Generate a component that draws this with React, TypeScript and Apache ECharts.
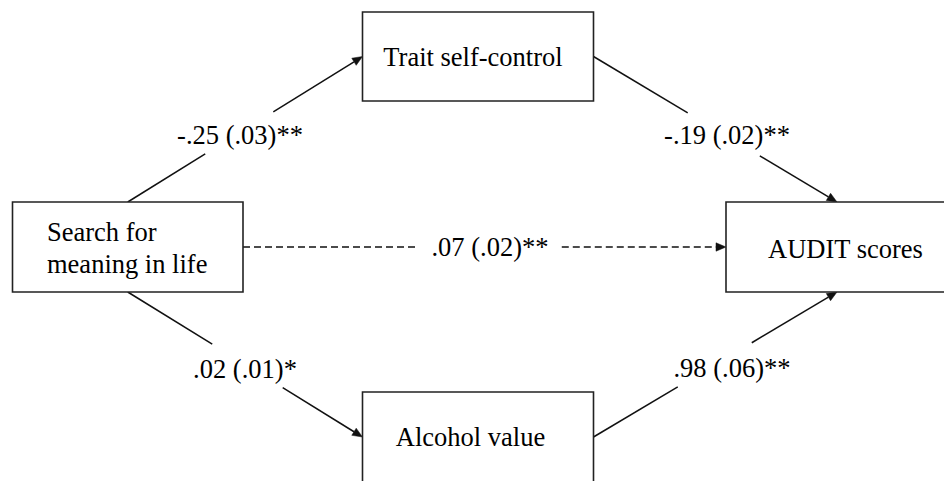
import React, { useEffect, useRef } from "react";
import * as echarts from "echarts";

// ---- data ----
const nodeNames = ["Search for\nmeaning in life", "Trait self-control", "Alcohol value", "AUDIT scores"];
const pathFrom = [0, 1, 0, 2, 0];
const pathTo = [1, 3, 2, 3, 3];
const pathCoef = ["-.25", "-.19", ".02", ".98", ".07"];
const pathSE = [".03", ".02", ".01", ".06", ".02"];
const pathSig = ["**", "**", "*", "**", "**"];
const pathDirect = [false, false, false, false, true];

// ---- layout (pixel space of a 944x481 canvas) ----
const NODE_BOX: number[][] = [
  [12.5, 202, 230.5, 90],
  [362.5, 12, 231, 89],
  [362.5, 392, 231, 90],
  [726, 202, 222, 90],
];
// anchor sides: 't' top-center, 'b' bottom-center, 'l' left-mid, 'r' right-mid
const FROM_SIDE = ["t", "r", "b", "r", "r"];
const TO_SIDE = ["l", "t", "l", "b", "l"];
const GAP: number[][] = [
  [0.33, 0.62],
  [0.387, 0.683],
  [0.36, 0.66],
  [0.346, 0.65],
  [0.36, 0.66],
];
const LABEL_POS: number[][] = [
  [240, 135],
  [727, 135],
  [245, 369],
  [732, 368],
  [490, 247],
];
const TEXT_POS: number[][] = [
  [47, 232],
  [473, 57],
  [470.5, 437],
  [845.5, 249],
];
const FONT_FAMILY = "Liberation Serif";
const FONT_SIZE = 26.5;
const FONT = `${FONT_SIZE}px "Liberation Serif", "Times New Roman", serif`;
const LINE_COLOR = "#111";

function anchor(box: number[], side: string): number[] {
  const [x, y, w, h] = box;
  if (side === "t") return [x + w / 2, y];
  if (side === "b") return [x + w / 2, y + h];
  if (side === "l") return [x, y + h / 2];
  return [x + w, y + h / 2];
}

function textStyle(text: string, x: number, y: number, align: string) {
  return {
    text,
    x,
    y,
    fill: "#000",
    font: FONT,
    fontFamily: FONT_FAMILY,
    fontSize: FONT_SIZE,
    align,
    textAlign: align,
    verticalAlign: "middle",
    textVerticalAlign: "middle",
  };
}

export default function App() {
  const ref = useRef<HTMLDivElement>(null);
  useEffect(() => {
    if (!ref.current) return;
    const chart = echarts.init(ref.current, undefined, { renderer: "svg" });

    const renderNode = (params: any, api: any) => {
      const i = params.dataIndex;
      const [x, y, w, h] = NODE_BOX[i];
      const p0 = api.coord([x, y]);
      const p1 = api.coord([x + w, y + h]);
      const children: any[] = [
        {
          type: "rect",
          shape: { x: p0[0], y: p0[1], width: p1[0] - p0[0], height: p1[1] - p0[1] },
          style: { fill: "#fff", stroke: "#222", lineWidth: 1.6 },
        },
      ];
      const lines = nodeNames[i].split("\n");
      const multi = lines.length > 1;
      const tp = api.coord(TEXT_POS[i]);
      lines.forEach((ln, k) => {
        children.push({
          type: "text",
          style: textStyle(ln, tp[0], tp[1] + k * 32, multi ? "left" : "center"),
        });
      });
      return { type: "group", children };
    };

    const renderEdge = (params: any, api: any) => {
      const i = params.dataIndex;
      const a = api.coord(anchor(NODE_BOX[pathFrom[i]], FROM_SIDE[i]));
      const b = api.coord(anchor(NODE_BOX[pathTo[i]], TO_SIDE[i]));
      const dx = b[0] - a[0];
      const dy = b[1] - a[1];
      const len = Math.sqrt(dx * dx + dy * dy);
      const ux = dx / len;
      const uy = dy / len;
      const [g0, g1] = GAP[i];
      const m0 = [a[0] + dx * g0, a[1] + dy * g0];
      const m1 = [a[0] + dx * g1, a[1] + dy * g1];
      const AL = 10;
      const AW = 4.2;
      const base = [b[0] - ux * AL, b[1] - uy * AL];
      const dash = pathDirect[i] ? [7, 4] : null;
      const lineStyle: any = { stroke: LINE_COLOR, lineWidth: 1.5, lineDash: dash };
      const lp = api.coord(LABEL_POS[i]);
      return {
        type: "group",
        children: [
          { type: "line", shape: { x1: a[0], y1: a[1], x2: m0[0], y2: m0[1] }, style: lineStyle },
          { type: "line", shape: { x1: m1[0], y1: m1[1], x2: base[0], y2: base[1] }, style: lineStyle },
          {
            type: "polygon",
            shape: {
              points: [
                [b[0], b[1]],
                [base[0] - uy * AW, base[1] + ux * AW],
                [base[0] + uy * AW, base[1] - ux * AW],
              ],
            },
            style: { fill: LINE_COLOR, stroke: LINE_COLOR, lineWidth: 0.5 },
          },
          {
            type: "text",
            style: textStyle(`${pathCoef[i]} (${pathSE[i]})${pathSig[i]}`, lp[0], lp[1], "center"),
          },
        ],
      };
    };

    chart.setOption({
      animation: false,
      backgroundColor: "#fff",
      textStyle: { fontFamily: FONT_FAMILY },
      grid: { left: 0, right: 0, top: 0, bottom: 0 },
      xAxis: { type: "value", min: 0, max: 944, show: false },
      yAxis: { type: "value", min: 0, max: 481, inverse: true, show: false },
      series: [
        {
          type: "custom",
          name: "paths",
          clip: false,
          silent: true,
          renderItem: renderEdge,
          data: pathFrom.map((_, i) => [i, 0]),
        },
        {
          type: "custom",
          name: "nodes",
          clip: false,
          silent: true,
          renderItem: renderNode,
          data: nodeNames.map((_, i) => [i, 0]),
        },
      ],
    });
    return () => chart.dispose();
  }, []);
  return (
    <div
      ref={ref}
      style={{ position: "fixed", left: 0, top: 0, width: 944, height: 481, background: "#fff" }}
    />
  );
}
